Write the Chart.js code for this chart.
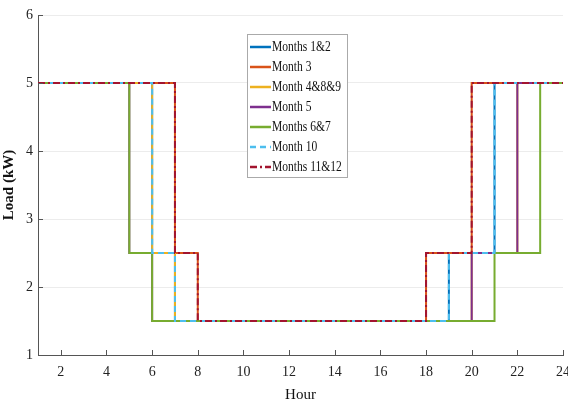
<!DOCTYPE html>
<html>
<head>
<meta charset="utf-8">
<script src="https://cdn.jsdelivr.net/npm/chart.js@4.4.1/dist/chart.umd.min.js"></script>
<style>
    html, body { margin: 0; padding: 0; background: #fff; }
    #wrap { width: 568px; height: 408px; }
</style>
</head>
<body>
<div id="wrap"><canvas id="loadChart" width="568" height="408"></canvas></div>
<script>
// hourly load (kW), value for hour h holds from h to h+1
const hours = [1, 2, 3, 4, 5, 6, 7, 8, 9, 10, 11, 12, 13, 14, 15, 16, 17, 18, 19, 20, 21, 22, 23, 24];
const loadMonths1and2 = [5, 5, 5, 5, 5, 2.5, 1.5, 1.5, 1.5, 1.5, 1.5, 1.5, 1.5, 1.5, 1.5, 1.5, 1.5, 1.5, 2.5, 2.5, 5, 5, 5, 5];
const loadMonth3 = [5, 5, 5, 5, 5, 5, 2.5, 1.5, 1.5, 1.5, 1.5, 1.5, 1.5, 1.5, 1.5, 1.5, 1.5, 2.5, 2.5, 5, 5, 5, 5, 5];
const loadMonth4and8and9 = [5, 5, 5, 5, 5, 2.5, 1.5, 1.5, 1.5, 1.5, 1.5, 1.5, 1.5, 1.5, 1.5, 1.5, 1.5, 1.5, 1.5, 2.5, 2.5, 5, 5, 5];
const loadMonth5 = [5, 5, 5, 5, 2.5, 1.5, 1.5, 1.5, 1.5, 1.5, 1.5, 1.5, 1.5, 1.5, 1.5, 1.5, 1.5, 1.5, 1.5, 2.5, 2.5, 5, 5, 5];
const loadMonths6and7 = [5, 5, 5, 5, 2.5, 1.5, 1.5, 1.5, 1.5, 1.5, 1.5, 1.5, 1.5, 1.5, 1.5, 1.5, 1.5, 1.5, 1.5, 1.5, 2.5, 2.5, 5, 5];
const loadMonth10 = [5, 5, 5, 5, 5, 2.5, 1.5, 1.5, 1.5, 1.5, 1.5, 1.5, 1.5, 1.5, 1.5, 1.5, 1.5, 1.5, 2.5, 2.5, 5, 5, 5, 5];
const loadMonths11and12 = [5, 5, 5, 5, 5, 5, 2.5, 1.5, 1.5, 1.5, 1.5, 1.5, 1.5, 1.5, 1.5, 1.5, 1.5, 2.5, 2.5, 5, 5, 5, 5, 5];

const seriesLabels = ["Months 1&2", "Month 3", "Month 4&8&9", "Month 5", "Months 6&7", "Month 10", "Months 11&12"];
const seriesData = [loadMonths1and2, loadMonth3, loadMonth4and8and9, loadMonth5, loadMonths6and7, loadMonth10, loadMonths11and12];
const seriesColors = ["#0072BD", "#D95319", "#EDB120", "#7E2F8E", "#77AC30", "#4DBEEE", "#A2142F"];
const seriesDash = [[], [], [], [], [], [6, 4], [7, 3, 2, 3]];

const xTicks = [2, 4, 6, 8, 10, 12, 14, 16, 18, 20, 22, 24];
const yTicks = [1, 2, 3, 4, 5, 6];

const serif = "'Liberation Serif', 'Times New Roman', serif";

const datasets = seriesLabels.map((label, i) => ({
    label: label,
    data: hours.map((h, k) => ({ x: h, y: seriesData[i][k] })),
    borderColor: seriesColors[i],
    borderDash: seriesDash[i],
    borderWidth: 2,
    pointRadius: 0,
    stepped: "before",
    fill: false,
    order: -i   // later series on top, like the original plot
}));

// MATLAB style ticks pointing into the axes
const innerTicks = {
    id: "innerTicks",
    afterDatasetsDraw(chart) {
        const ctx = chart.ctx;
        const area = chart.chartArea;
        const xs = chart.scales.x, ys = chart.scales.y;
        ctx.save();
        ctx.strokeStyle = "#555";
        ctx.lineWidth = 1;
        ctx.beginPath();
        xTicks.forEach(v => {
            const px = Math.round(xs.getPixelForValue(v)) + 0.5;
            ctx.moveTo(px, area.bottom);
            ctx.lineTo(px, area.bottom - 5);
        });
        yTicks.forEach(v => {
            const py = Math.round(ys.getPixelForValue(v)) + 0.5;
            ctx.moveTo(area.left, py);
            ctx.lineTo(area.left + 5, py);
        });
        ctx.stroke();
        ctx.restore();
    }
};

// boxed legend inside the axes, top centre
const boxLegend = {
    id: "boxLegend",
    afterDraw(chart) {
        const ctx = chart.ctx;
        const left = 247, top = 34, width = 100, height = 143;
        ctx.save();
        ctx.fillStyle = "#fff";
        ctx.fillRect(left, top, width, height);
        ctx.strokeStyle = "#aaa";
        ctx.lineWidth = 1;
        ctx.strokeRect(left + 0.5, top + 0.5, width, height);
        ctx.font = "15px " + serif;
        ctx.textBaseline = "middle";
        chart.data.datasets.forEach((ds, i) => {
            const y = top + 13 + i * 20;
            ctx.strokeStyle = ds.borderColor;
            ctx.lineWidth = 2.5;
            ctx.setLineDash(ds.borderDash);
            ctx.beginPath();
            ctx.moveTo(250, y);
            ctx.lineTo(271, y);
            ctx.stroke();
            ctx.setLineDash([]);
            ctx.save();
            ctx.translate(272, y);
            ctx.scale(0.77, 1);
            ctx.fillStyle = "#111";
            ctx.fillText(ds.label, 0, 0);
            ctx.restore();
        });
        ctx.restore();
    }
};

new Chart(document.getElementById("loadChart"), {
    type: "line",
    data: { datasets: datasets },
    options: {
        responsive: false,
        animation: false,
        devicePixelRatio: 1,
        layout: { autoPadding: false, padding: { top: 15, right: 5, left: 0, bottom: 0 } },
        plugins: { legend: { display: false }, tooltip: { enabled: false } },
        scales: {
            x: {
                type: "linear",
                min: 1,
                max: 24,
                afterBuildTicks: s => { s.ticks = xTicks.map(v => ({ value: v })); },
                afterFit: s => { s.height = 53; s.paddingLeft = 0; s.paddingRight = 0; },
                grid: { display: false, drawTicks: false },
                border: { display: true, color: "#555", width: 1 },
                ticks: { padding: 9, color: "#222", font: { family: serif, size: 14 }, maxRotation: 0 },
                title: { display: true, text: "Hour", color: "#111", font: { family: serif, size: 15 }, padding: { top: 0, bottom: 4 } }
            },
            y: {
                type: "linear",
                min: 1,
                max: 6,
                afterBuildTicks: s => { s.ticks = yTicks.map(v => ({ value: v })); },
                afterFit: s => { s.width = 38; s.paddingTop = 0; s.paddingBottom = 0; },
                grid: { color: "#ececec", drawTicks: false },
                border: { display: true, color: "#555", width: 1 },
                ticks: { padding: 5, color: "#222", font: { family: serif, size: 14 } },
                title: { display: true, text: "Load (kW)", color: "#111", font: { family: serif, size: 15, weight: "bold" }, padding: { top: 0, bottom: 0 } }
            }
        }
    },
    plugins: [innerTicks, boxLegend]
});
</script>
</body>
</html>
